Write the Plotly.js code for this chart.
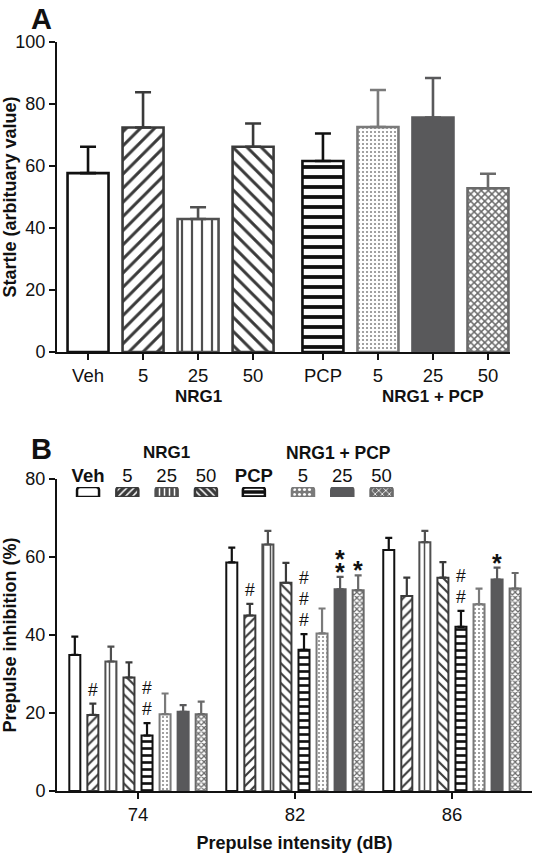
<!DOCTYPE html>
<html><head><meta charset="utf-8">
<script src="https://cdn.plot.ly/plotly-3.0.1.min.js"></script>
<style>html,body{margin:0;padding:0;background:#fff}</style>
</head><body><div id="chart" style="width:534px;height:853px"></div>
<script>
// ---------- Panel A data ----------
const groupsA = ['Veh', '5', '25', '50', 'PCP', '5', '25', '50'];
const startleMean = [57.7, 72.4, 42.9, 66.2, 61.6, 72.6, 75.6, 52.8];
const startleSEM  = [8.5, 11.4, 3.8, 7.5, 8.9, 11.9, 12.8, 4.7];

// ---------- Panel B data ----------
const intensities = ['74', '82', '86'];
const treatments = ['Veh', 'NRG1 5', 'NRG1 25', 'NRG1 50', 'PCP', 'NRG1 5 + PCP', 'NRG1 25 + PCP', 'NRG1 50 + PCP'];
const legendLabels = ['<b>Veh</b>', '5', '25', '50', '<b>PCP</b>', '5', '25', '50'];
const ppiMean = [
  [34.9, 58.6, 61.8],
  [19.5, 45.0, 50.0],
  [33.2, 63.2, 63.8],
  [29.1, 53.4, 54.7],
  [14.2, 36.2, 42.1],
  [19.7, 40.4, 47.9],
  [20.3, 51.7, 54.2],
  [19.7, 51.5, 51.9]
];
const ppiSEM = [
  [4.7, 3.8, 3.1],
  [2.9, 3.0, 4.7],
  [3.8, 3.5, 2.9],
  [3.9, 5.1, 4.0],
  [3.2, 4.0, 4.1],
  [5.3, 6.4, 4.0],
  [1.7, 3.2, 3.1],
  [3.2, 3.8, 4.0]
];
// significance marks
const sigIntensity = ['74', '74', '82', '82', '82', '82', '86', '86'];
const sigTreatment = [1, 4, 1, 4, 6, 7, 4, 6];
const sigSymbol    = ['#', '#', '#', '#', '*', '*', '#', '*'];
const sigCount     = [1, 2, 1, 3, 2, 1, 2, 1];

// ---------- styles ----------
const lineCol = ['#111111', '#3a3a3a', '#505050', '#3a3a3a', '#111111', '#7a7a7a', '#59595b', '#6a6a6a'];
const fillCol = ['#ffffff', '#ffffff', '#ffffff', '#ffffff', '#ffffff', '#ffffff', '#59595b', '#ffffff'];
const patShape = ['', '/', '|', '\\', '-', '.', '', 'x'];
const patFg = ['#111', '#3a3a3a', '#505050', '#3a3a3a', '#111', '#8a8a8a', '#59595b', '#6a6a6a'];
const patSol = [0.3, 0.3, 0.22, 0.3, 0.38, 0.22, 0.3, 0.5];

const FONT = 'Liberation Sans, Arial, sans-serif';
const W = 534, H = 853, MT = 10, MB = 10, PH = H - MT - MB;
const py = px => (H - MB - px) / PH;   // page px (from top) -> paper y
const pxX = px => px / W;

// positions for panel A (extra gap before PCP groups)
const posA = groupsA.map((g, i) => i + (i >= 4 ? 0.27 : 0));
const posL = legendLabels.map((g, i) => i + (i >= 4 ? 0.22 : 0) + (i >= 5 ? 0.25 : 0));

const traces = [];
// Panel A bars, one trace per bar (distinct error colors)
groupsA.forEach((g, i) => {
  traces.push({
    type: 'bar', xaxis: 'x', yaxis: 'y',
    x: [posA[i]], y: [startleMean[i]], width: 0.745, offset: -0.3725,
    marker: {
      color: fillCol[i],
      line: {color: lineCol[i], width: 2.6},
      pattern: {shape: patShape[i], fgcolor: patFg[i], bgcolor: fillCol[i], size: i === 5 ? 4 : (i === 7 ? 5 : 10), solidity: patSol[i]}
    },
    error_y: {type: 'data', array: [startleSEM[i]], arrayminus: [0], symmetric: false, color: lineCol[i], thickness: 2.6, width: 8},
    showlegend: false, hoverinfo: 'skip'
  });
});
// Panel B grouped bars
treatments.forEach((t, i) => {
  traces.push({
    type: 'bar', xaxis: 'x2', yaxis: 'y2', name: t,
    x: intensities, y: ppiMean[i],
    marker: {
      color: fillCol[i],
      line: {color: lineCol[i], width: 2},
      pattern: {shape: patShape[i], fgcolor: patFg[i], bgcolor: fillCol[i], size: i === 5 ? 4 : (i === 7 ? 4 : 7), solidity: patSol[i]}
    },
    error_y: {type: 'data', array: ppiSEM[i], arrayminus: [0, 0, 0], symmetric: false, color: lineCol[i], thickness: 2.2, width: 3.5},
    showlegend: false, hoverinfo: 'skip'
  });
});
// Legend swatches (Panel B key)
treatments.forEach((t, i) => {
  traces.push({
    type: 'bar', xaxis: 'x3', yaxis: 'y3',
    x: [posL[i]], y: [1], width: 0.56, offset: -0.28,
    marker: {
      color: i === 0 ? '#fff' : (i === 4 ? '#111' : lineCol[i]),
      cornerradius: 3,
      line: {color: lineCol[i], width: 2.5},
      pattern: {shape: patShape[i], fgcolor: '#fff', bgcolor: i === 0 ? '#fff' : (i === 4 ? '#111' : lineCol[i]), size: 5, solidity: 0.3}
    },
    showlegend: false, hoverinfo: 'skip'
  });
});

const BARGAP = 0.08;
const slot = (1 - BARGAP) / treatments.length;

const annotations = [
  {text: '<b>A</b>', xref: 'paper', yref: 'paper', x: pxX(29), y: py(1), xanchor: 'left', yanchor: 'top', showarrow: false, font: {size: 29, color: '#111', family: FONT}},
  {text: '<b>B</b>', xref: 'paper', yref: 'paper', x: pxX(29), y: py(431), xanchor: 'left', yanchor: 'top', showarrow: false, font: {size: 29, color: '#111', family: FONT}},
  {text: '<b>NRG1</b>', xref: 'x', yref: 'paper', x: posA[2], y: py(396), showarrow: false, font: {size: 17, color: '#111', family: FONT}},
  {text: '<b>NRG1 + PCP</b>', xref: 'x', yref: 'paper', x: posA[6], y: py(396), showarrow: false, font: {size: 17, color: '#111', family: FONT}},
  {text: '<b>NRG1</b>', xref: 'x3', yref: 'paper', x: posL[2], y: py(453), showarrow: false, font: {size: 17, color: '#111', family: FONT}},
  {text: '<b>NRG1 + PCP</b>', xref: 'x3', yref: 'paper', x: posL[6] - 0.1, y: py(453), showarrow: false, font: {size: 17.5, color: '#111', family: FONT}}
];
sigIntensity.forEach((lvl, k) => {
  const gi = intensities.indexOf(lvl);
  const t = sigTreatment[k];
  const top = ppiMean[t][gi] + ppiSEM[t][gi];
  for (let c = 0; c < sigCount[k]; c++) {
    const isStar = sigSymbol[k] === '*';
    annotations.push({
      text: isStar ? '<b>*</b>' : '#', xref: 'x2', yref: 'y2',
      x: gi + (t - (treatments.length - 1) / 2) * slot, y: top,
      yanchor: 'middle', showarrow: false,
      yshift: isStar ? (5 + 13 * c) : (14 + 21 * c),
      font: {size: isStar ? 25 : 17.5, color: '#111', family: FONT}
    });
  }
});

const axisCommon = {showline: true, linecolor: '#111', linewidth: 2, ticks: 'outside', ticklen: 6, tickwidth: 2, tickcolor: '#111', showgrid: false, zeroline: false, tickfont: {size: 18, color: '#111', family: FONT}};
const xTickFont = {size: 18.5, color: '#111', family: FONT};

const layout = {
  width: W, height: H,
  margin: {l: 0, r: 0, t: MT, b: MB},
  paper_bgcolor: '#fff', plot_bgcolor: 'rgba(0,0,0,0)',
  font: {family: FONT, color: '#111'},
  barmode: 'group', bargap: BARGAP, bargroupgap: 0.39,
  showlegend: false,
  xaxis: Object.assign({}, axisCommon, {domain: [pxX(57), pxX(510)], anchor: 'y', range: [-0.564, 7.67], tickvals: posA, ticktext: groupsA, tickfont: xTickFont}),
  yaxis: Object.assign({}, axisCommon, {domain: [py(352), py(42)], anchor: 'x', range: [0, 100], dtick: 20,
    title: {text: '<b>Startle (arbituary value)</b>', font: {size: 18, color: '#111', family: FONT}, standoff: 8}}),
  xaxis2: Object.assign({}, axisCommon, {domain: [pxX(57), pxX(532)], anchor: 'y2', type: 'category', range: [-0.516, 2.51], tickfont: xTickFont,
    title: {text: '<b>Prepulse intensity (dB)</b>', font: {size: 18, color: '#111', family: FONT}, standoff: 18}}),
  yaxis2: Object.assign({}, axisCommon, {domain: [py(791), py(479)], anchor: 'x2', range: [0, 80], dtick: 20,
    title: {text: '<b>Prepulse inhibition (%)</b>', font: {size: 18, color: '#111', family: FONT}, standoff: 8}}),
  xaxis3: {domain: [pxX(57), pxX(402.4)], anchor: 'y3', range: [-0.79, 8], side: 'top', showline: false, ticks: '', showgrid: false, zeroline: false,
    tickvals: posL, ticktext: legendLabels, tickfont: {size: 18.5, color: '#111', family: FONT}},
  yaxis3: {domain: [py(497), py(487)], anchor: 'x3', range: [0, 1], visible: false, fixedrange: true},
  annotations: annotations
};

Plotly.newPlot('chart', traces, layout, {staticPlot: true, displayModeBar: false});
</script></body></html>
